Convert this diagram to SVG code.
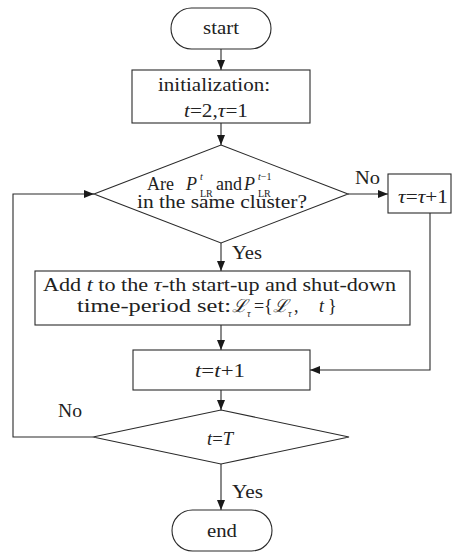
<svg xmlns="http://www.w3.org/2000/svg" width="453" height="552" viewBox="0 0 453 552">
<defs>
<style>
.sh{fill:#fff;stroke:#2a2a2a;stroke-width:1.1}
.ln{fill:none;stroke:#2a2a2a;stroke-width:1.1}
.tx{font-family:'Liberation Serif',serif;font-size:18px;fill:#222}
.it{font-style:italic}
.sm{font-size:10px}
</style>
<marker id="ah" viewBox="0 0 10 8" refX="10" refY="4" markerWidth="10" markerHeight="8" markerUnits="userSpaceOnUse" orient="auto">
<path d="M0,0 L10,4 L0,8 z" fill="#1a1a1a"/>
</marker>
</defs>
<rect width="453" height="552" fill="#fff"/>
<g id="connectors">
<line class="ln" x1="221" y1="49" x2="221" y2="70" marker-end="url(#ah)"/>
<line class="ln" x1="221" y1="123" x2="221" y2="145" marker-end="url(#ah)"/>
<line class="ln" x1="348" y1="194" x2="388" y2="194" marker-end="url(#ah)"/>
<line class="ln" x1="221" y1="243" x2="221" y2="271" marker-end="url(#ah)"/>
<line class="ln" x1="221" y1="325" x2="221" y2="350" marker-end="url(#ah)"/>
<polyline class="ln" points="430,213 430,370 310,370" marker-end="url(#ah)"/>
<line class="ln" x1="221" y1="390" x2="221" y2="410" marker-end="url(#ah)"/>
<line class="ln" x1="221" y1="464" x2="221" y2="510" marker-end="url(#ah)"/>
<polyline class="ln" points="93,437 13,437 13,194 94,194" marker-end="url(#ah)"/>
<text class="tx" x="355" y="184" textLength="25" lengthAdjust="spacingAndGlyphs">No</text>
<text class="tx" x="232" y="259" textLength="30" lengthAdjust="spacingAndGlyphs">Yes</text>
<text class="tx" x="58" y="417" textLength="24" lengthAdjust="spacingAndGlyphs">No</text>
<text class="tx" x="232" y="498" textLength="31" lengthAdjust="spacingAndGlyphs">Yes</text>
</g>
<g id="start">
<rect class="sh" x="171" y="8" width="100" height="41" rx="20.5"/>
<text class="tx" x="203" y="34" textLength="36" lengthAdjust="spacingAndGlyphs">start</text>
</g>
<g id="init">
<rect class="sh" x="132" y="70" width="178" height="53"/>
<text class="tx" x="158" y="91" textLength="112" lengthAdjust="spacingAndGlyphs">initialization:</text>
<text class="tx" x="184" y="117" textLength="64" lengthAdjust="spacingAndGlyphs"><tspan class="it">t</tspan>=2,<tspan class="it">τ</tspan>=1</text>
</g>
<g id="same-cluster">
<polygon class="sh" points="221,145 348,194 221,243 94,194"/>
<text class="tx"><tspan x="147" y="190">Are</tspan><tspan x="186" y="190" class="it">P</tspan><tspan x="200" y="180" class="it sm">t</tspan><tspan x="200" y="197" class="sm">LR</tspan><tspan x="216" y="190">and</tspan><tspan x="244" y="190" class="it">P</tspan><tspan x="258" y="180" class="sm"><tspan class="it">t</tspan>−1</tspan><tspan x="258" y="197" class="sm">LR</tspan></text>
<text class="tx" x="137" y="208" textLength="170" lengthAdjust="spacingAndGlyphs">in the same cluster?</text>
</g>
<g id="tau-inc">
<rect class="sh" x="388" y="174" width="63" height="39"/>
<text class="tx" x="398" y="203" textLength="50" lengthAdjust="spacingAndGlyphs"><tspan class="it">τ</tspan>=<tspan class="it">τ</tspan>+1</text>
</g>
<g id="add-set">
<rect class="sh" x="35" y="271" width="375" height="54"/>
<text class="tx" x="43" y="291" textLength="353" lengthAdjust="spacingAndGlyphs">Add <tspan class="it">t</tspan> to the <tspan class="it">τ</tspan>-th start-up and shut-down</text>
<text class="tx"><tspan x="77" y="312" textLength="154" lengthAdjust="spacingAndGlyphs">time-period set:</tspan><tspan x="232" y="312" class="it">ℒ</tspan><tspan x="247" y="317" class="it sm">τ</tspan><tspan x="254" y="312">=</tspan><tspan x="264" y="312">{</tspan><tspan x="273" y="312" class="it">ℒ</tspan><tspan x="288" y="317" class="it sm">τ</tspan><tspan x="294" y="312">,</tspan><tspan x="319" y="312" class="it">t</tspan><tspan x="328" y="312">}</tspan></text>
</g>
<g id="t-inc">
<rect class="sh" x="133" y="350" width="177" height="40"/>
<text class="tx" x="195" y="377" textLength="50" lengthAdjust="spacingAndGlyphs"><tspan class="it">t</tspan>=<tspan class="it">t</tspan>+1</text>
</g>
<g id="t-eq-T">
<polygon class="sh" points="221,410 349,437 221,464 93,437"/>
<text class="tx" x="207" y="445" textLength="26" lengthAdjust="spacingAndGlyphs"><tspan class="it">t</tspan>=<tspan class="it">T</tspan></text>
</g>
<g id="end">
<rect class="sh" x="172" y="510" width="100" height="41" rx="20.5"/>
<text class="tx" x="207" y="537" textLength="30" lengthAdjust="spacingAndGlyphs">end</text>
</g>
</svg>
